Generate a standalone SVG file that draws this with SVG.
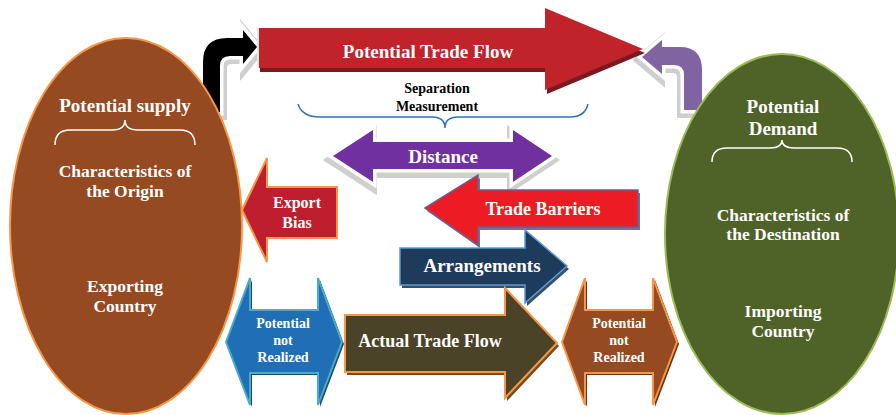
<svg xmlns="http://www.w3.org/2000/svg" width="896" height="415" viewBox="0 0 896 415" font-family="'Liberation Serif', 'DejaVu Serif', serif">
  <defs>
    <style>
      .t{font-family:'Liberation Serif','DejaVu Serif',serif;font-weight:700;fill:#ffffff;text-anchor:middle}
      .k{fill:#000000}
      .brace{fill:none;stroke:#ffffff;stroke-width:1.5}
      .halo{fill:none;stroke:#cfcfcf;stroke-width:10;stroke-linejoin:miter}
      .rim{fill:none;stroke:#ffffff;stroke-width:7;stroke-linejoin:miter}
    </style>
    <path id="bentL" d="M203,112 L203,62 Q203,38 227,38 L243,38 L243,30 L257,47 L243,64 L243,56 L230,56 Q220,56 220,66 L220,112 Z"/>
    <path id="bentR" d="M642,57 L662,40 L662,47 L680,47 Q702,47 702,70 L702,110 L684,110 L684,75 Q684,65 674,65 L662,65 L662,74 Z"/>
    <path id="dist" d="M333,156 L373,130 L373,142 L513,142 L513,130 L552,156 L513,182 L513,169 L373,169 L373,182 Z"/>
  </defs>
  <rect width="896" height="415" fill="#ffffff"/>

  <!-- curved connectors from supply into the flow and from the flow into demand -->
  <g id="connectors">
    <use href="#bentL" class="halo" transform="translate(2,3)"/>
    <use href="#bentL" class="rim"/>
    <use href="#bentL" fill="#000000"/>
    <use href="#bentR" class="halo" transform="translate(-2,3)"/>
    <use href="#bentR" class="rim"/>
    <use href="#bentR" fill="#8064A2"/>
  </g>

  <!-- exporting country -->
  <g id="supply">
    <ellipse cx="126" cy="226" rx="116" ry="188" fill="#954A22" stroke="#F79646" stroke-width="2"/>
    <text class="t" x="125" y="112" font-size="19">Potential supply</text>
    <path class="brace" d="M55,145 Q55,130 70,130 L112,130 Q125,130 125,120 Q125,130 138,130 L180,130 Q195,130 195,145"/>
    <text class="t" x="125" y="177" font-size="17.5">Characteristics of</text>
    <text class="t" x="125" y="197" font-size="17.5">the Origin</text>
    <text class="t" x="125" y="292" font-size="17.5">Exporting</text>
    <text class="t" x="125" y="312" font-size="17.5">Country</text>
  </g>

  <!-- importing country -->
  <g id="demand">
    <ellipse cx="782" cy="234" rx="117" ry="180" fill="#4F6228" stroke="#9BBB59" stroke-width="2"/>
    <text class="t" x="783" y="113" font-size="19">Potential</text>
    <text class="t" x="783" y="135" font-size="19">Demand</text>
    <path class="brace" d="M712,162 Q712,148 727,148 L770,148 Q782,148 782,140 Q782,148 794,148 L837,148 Q852,148 852,162"/>
    <text class="t" x="783" y="221" font-size="17.5">Characteristics of</text>
    <text class="t" x="783" y="240" font-size="17.5">the Destination</text>
    <text class="t" x="783" y="317" font-size="17.5">Importing</text>
    <text class="t" x="783" y="337" font-size="17.5">Country</text>
  </g>

  <!-- potential trade flow -->
  <g id="potential-flow">
    <path d="M258,28 L545,28 L545,8 L643,49 L545,90 L545,68 L258,68 Z" fill="#7A1A1E" transform="translate(2,4)"/>
    <path d="M258,28 L545,28 L545,8 L643,49 L545,90 L545,68 L258,68 Z" fill="#C0232A"/>
    <path d="M258,28 L258,68" stroke="#e6e6e6" stroke-width="2" fill="none"/>
    <text class="t" x="428" y="58" font-size="19">Potential Trade Flow</text>
  </g>

  <!-- separation measurement -->
  <g id="separation">
    <text class="t k" x="437" y="93" font-size="14">Separation</text>
    <text class="t k" x="437" y="111" font-size="14">Measurement</text>
    <path d="M298,104 Q302,117 320,117 L432,117 Q445,117 445,128 Q445,117 458,117 L570,117 Q585,117 588,104" fill="none" stroke="#2E75B6" stroke-width="1.5"/>
  </g>

  <!-- distance -->
  <g id="distance">
    <use href="#dist" class="halo" transform="translate(-1,4)"/>
    <use href="#dist" class="rim"/>
    <use href="#dist" fill="#7030A0"/>
    <text class="t" x="443" y="163" font-size="19">Distance</text>
  </g>

  <!-- trade barriers -->
  <g id="trade-barriers">
    <path d="M425,208 L478,175 L478,190 L638,190 L638,227 L478,227 L478,245 Z" fill="#7D6B95" transform="translate(2,3)"/>
    <path d="M425,208 L478,175 L478,190 L638,190 L638,227 L478,227 L478,245 Z" fill="#ED1C24" stroke="#6E5D8C" stroke-width="1.5"/>
    <text class="t" x="543" y="215" font-size="18">Trade Barriers</text>
  </g>

  <!-- arrangements -->
  <g id="arrangements">
    <path d="M400,248 L525,248 L525,230 L567,266 L525,303 L525,285 L400,285 Z" fill="#3A4F66" transform="translate(2,3)"/>
    <path d="M400,248 L525,248 L525,230 L567,266 L525,303 L525,285 L400,285 Z" fill="#1F3B5C" stroke="#5B9BD5" stroke-width="1.5"/>
    <text class="t" x="482" y="272" font-size="19">Arrangements</text>
  </g>

  <!-- export bias -->
  <g id="export-bias">
    <path d="M242,210 L267,158 L267,187 L337,187 L337,238 L267,238 L267,262 Z" fill="#BE1E2D" stroke="#F79646" stroke-width="2"/>
    <text class="t" x="297" y="208" font-size="16">Export</text>
    <text class="t" x="297" y="228" font-size="16">Bias</text>
  </g>

  <!-- unrealised potential on the supply side -->
  <g id="not-realized-origin">
    <path d="M226,342 L250,278 L250,310 L318,310 L318,278 L342,342 L318,405 L318,373 L250,373 L250,405 Z" fill="#1B4A70" transform="translate(2,2)"/>
    <path d="M226,342 L250,278 L250,310 L318,310 L318,278 L342,342 L318,405 L318,373 L250,373 L250,405 Z" fill="#1F6EB6" stroke="#4BACC6" stroke-width="2"/>
    <text class="t" x="283" y="328" font-size="14">Potential</text>
    <text class="t" x="283" y="345" font-size="14">not</text>
    <text class="t" x="283" y="362" font-size="14">Realized</text>
  </g>

  <!-- actual trade flow -->
  <g id="actual-flow">
    <path d="M345,315 L505,315 L505,288 L557,343 L505,398 L505,372 L345,372 Z" fill="#7A4A20" transform="translate(2,3)"/>
    <path d="M345,315 L505,315 L505,288 L557,343 L505,398 L505,372 L345,372 Z" fill="#4A4328" stroke="#F79646" stroke-width="2"/>
    <text class="t" x="430" y="347" font-size="18">Actual Trade Flow</text>
  </g>

  <!-- unrealised potential on the demand side -->
  <g id="not-realized-destination">
    <path d="M562,342 L585,278 L585,310 L653,310 L653,278 L677,342 L653,405 L653,373 L585,373 L585,405 Z" fill="#6B2F12" transform="translate(2,2)"/>
    <path d="M562,342 L585,278 L585,310 L653,310 L653,278 L677,342 L653,405 L653,373 L585,373 L585,405 Z" fill="#954A22" stroke="#F79646" stroke-width="2"/>
    <text class="t" x="619" y="328" font-size="14">Potential</text>
    <text class="t" x="619" y="345" font-size="14">not</text>
    <text class="t" x="619" y="362" font-size="14">Realized</text>
  </g>
</svg>
